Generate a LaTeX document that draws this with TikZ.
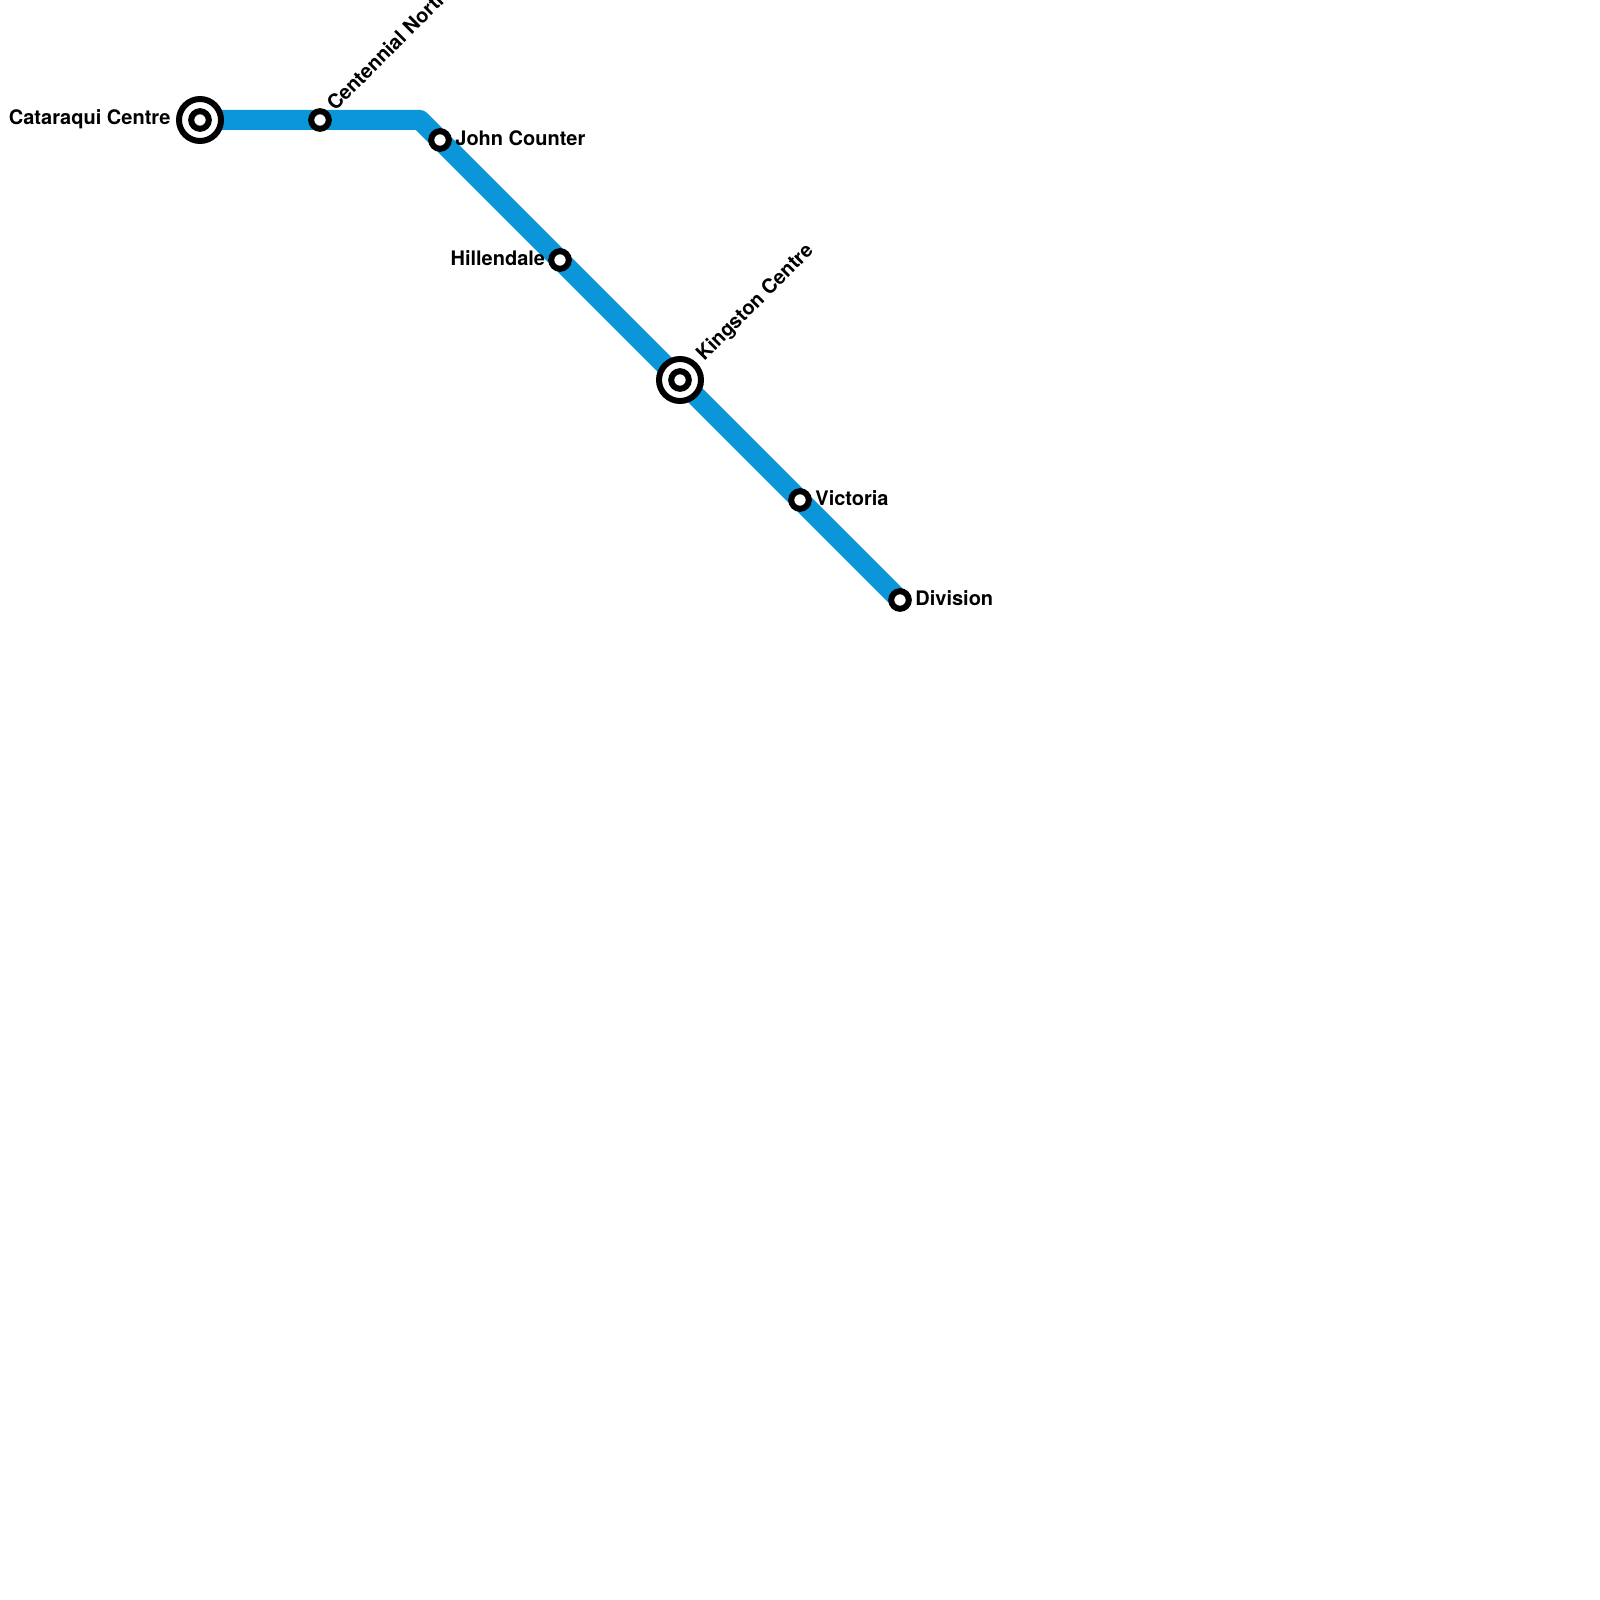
\documentclass[tikz,border=0pt]{standalone}
\usepackage{fontspec}
\setmainfont{TeX Gyre Heros}
\definecolor{lineblue}{HTML}{0A96D8}
\tikzset{
  x=0.5pt,y=-0.5pt,
  route/.style={draw=lineblue,line width=10pt,line join=round,line cap=butt},
  stop/.style={circle,draw=black,fill=white,line width=3pt,minimum size=8.8pt,inner sep=0pt},
  hubring/.style={circle,draw=black,fill=white,line width=3pt,minimum size=21pt,inner sep=0pt},
  lbl/.style={inner sep=0pt,font=\bfseries\fontsize{10pt}{12pt}\selectfont,text=black}
}
\begin{document}
\begin{tikzpicture}
\useasboundingbox (0,0) rectangle (1600,1600);
\clip (0,0) rectangle (1600,1600);
\coordinate (bend) at (420,120);
\path (200,120) coordinate (catc) (320,120) coordinate (cenc) (440,140) coordinate (johc)
  (560,260) coordinate (hilc) (680,380) coordinate (kinc) (800,500) coordinate (vicc) (900,600) coordinate (divc);
\draw[route] (catc) -- (cenc) -- (bend) -- (johc) -- (hilc) -- (kinc) -- (vicc) -- (divc);
\node[hubring] (catring) at (catc) {};
\node[hubring] (kinring) at (kinc) {};
\node[stop] (catstop) at (catc) {};
\node[stop] (kinstop) at (kinc) {};
\node[stop] (cen) at (cenc) {};
\node[stop] (joh) at (johc) {};
\node[stop] (hil) at (hilc) {};
\node[stop] (vic) at (vicc) {};
\node[stop] (div) at (divc) {};
\node[lbl,anchor=base west] (catl) at (8.5,125) {Cataraqui Centre};
\node[lbl,anchor=base west,rotate=45] (cenl) at (335,112) {Centennial North};
\node[lbl,anchor=base west] (johl) at (455,145.5) {John Counter};
\node[lbl,anchor=base east] (hill) at (545.5,265) {Hillendale};
\node[lbl,anchor=base west,rotate=45] (kinl) at (704,362) {Kingston Centre};
\node[lbl,anchor=base west] (vicl) at (815,505) {Victoria};
\node[lbl,anchor=base west] (divl) at (915,605) {Division};
\end{tikzpicture}
\end{document}
